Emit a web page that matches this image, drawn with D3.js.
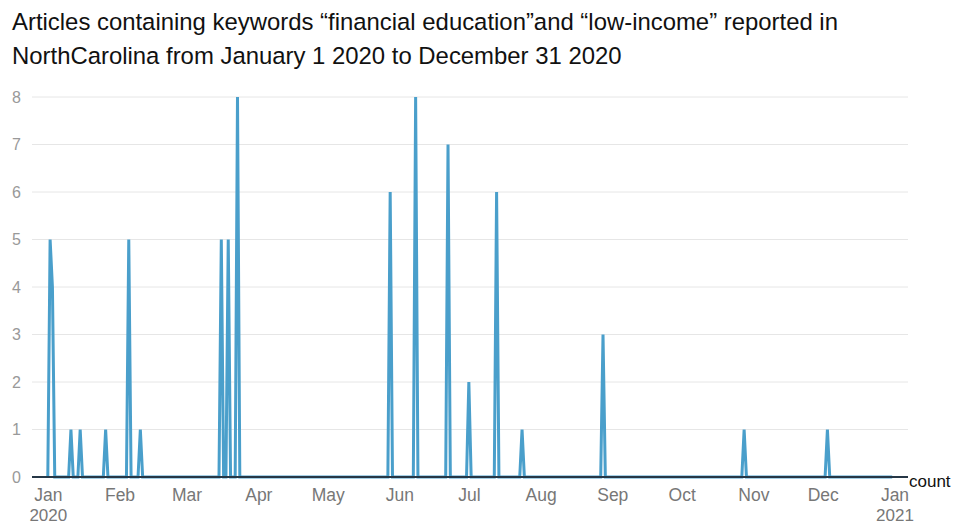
<!DOCTYPE html>
<html>
<head>
<meta charset="utf-8">
<script src="https://cdn.jsdelivr.net/npm/d3@7"></script>
<style>
  html, body { margin: 0; padding: 0; background: #fff; }
  svg { display: block; }
</style>
</head>
<body>
<svg id="chart" width="959" height="525"></svg>
<script>
// ---- data ----
const titleLines = [
  "Articles containing keywords \u201cfinancial education\u201dand \u201clow-income\u201d reported in",
  "NorthCarolina from January 1 2020 to December 31 2020"
];
// dates with at least one article (all other days of 2020 are 0)
const spikeDates = [
  "2020-01-02", "2020-01-03", "2020-01-11", "2020-01-15", "2020-01-26",
  "2020-02-05", "2020-02-10", "2020-03-16", "2020-03-19", "2020-03-23",
  "2020-05-28", "2020-06-08", "2020-06-22", "2020-07-01", "2020-07-13",
  "2020-07-24", "2020-08-28", "2020-10-28", "2020-12-03"
];
const spikeCounts = [5, 4, 1, 1, 1, 5, 1, 5, 5, 8, 6, 8, 7, 2, 6, 1, 3, 1, 1];
const yTicks = [0, 1, 2, 3, 4, 5, 6, 7, 8];
const seriesName = "count";

// ---- build the daily table ----
const countByDay = new Map(spikeDates.map((d, i) => [d, spikeCounts[i]]));
const days = d3.utcDay.range(Date.UTC(2020, 0, 1), Date.UTC(2021, 0, 1));
const fmt = d3.utcFormat("%Y-%m-%d");
const data = days.map(d => ({ date: d, value: countByDay.get(fmt(d)) || 0 }));

// ---- layout ----
const FONT = "Liberation Sans, Arial, Helvetica, sans-serif";
const svg = d3.select("#chart");
const x = d3.scaleUtc()
  .domain([Date.UTC(2020, 0, 1), Date.UTC(2021, 0, 1)])
  .range([47.8, 894.5]);
const y = d3.scaleLinear().domain([0, 8]).range([477, 97]);
const gridLeft = 32, gridRight = 908;

// title
svg.append("g").selectAll("text").data(titleLines).join("text")
  .attr("x", 12).attr("y", (d, i) => 30 + i * 34)
  .attr("font-family", FONT)
  .attr("font-size", 23.9).attr("fill", "#111")
  .text(d => d);

// grid lines
svg.append("g").selectAll("line").data(yTicks.filter(t => t > 0)).join("line")
  .attr("x1", gridLeft).attr("x2", gridRight)
  .attr("y1", d => y(d)).attr("y2", d => y(d))
  .attr("stroke", "#e6e6e6").attr("stroke-width", 1);

// y axis labels
const yAxis = d3.axisLeft(y).tickValues(yTicks).tickSize(0).tickPadding(0);
const yg = svg.append("g").attr("transform", "translate(21,0)").call(yAxis);
yg.select(".domain").remove();
yg.selectAll("text")
  .attr("font-family", FONT)
  .attr("font-size", 16).attr("fill", "#999");

// line
const line = d3.line().x(d => x(d.date)).y(d => y(d.value));
svg.append("path").datum(data)
  .attr("fill", "none").attr("stroke", "#4a9fcb")
  .attr("stroke-width", 3).attr("stroke-linejoin", "miter")
  .attr("d", line);

// x axis
const xAxis = d3.axisBottom(x)
  .ticks(d3.utcMonth.every(1))
  .tickSize(0).tickPadding(12)
  .tickFormat(d => d3.utcFormat("%b")(d));
const xg = svg.append("g").attr("transform", `translate(0,${y(0)})`).call(xAxis);
xg.select(".domain").remove();
xg.selectAll("text")
  .attr("font-family", FONT)
  .attr("font-size", 17.5).attr("fill", "#777")
  .attr("dy", "0.71em");
xg.selectAll(".tick")
  .filter(d => d.getUTCMonth() === 0)
  .append("text")
  .attr("y", 32).attr("dy", "0.71em")
  .attr("text-anchor", "middle")
  .attr("font-family", FONT)
  .attr("font-size", 17).attr("fill", "#777")
  .text(d => d.getUTCFullYear());

// baseline axis line
svg.append("line")
  .attr("x1", gridLeft).attr("x2", gridRight)
  .attr("y1", y(0)).attr("y2", y(0))
  .attr("stroke", "#263746").attr("stroke-width", 2);

svg.append("text")
  .attr("x", gridRight + 1).attr("y", y(0) + 10)
  .attr("font-family", FONT)
  .attr("font-size", 17).attr("fill", "#111")
  .text(seriesName);
</script>
</body>
</html>
